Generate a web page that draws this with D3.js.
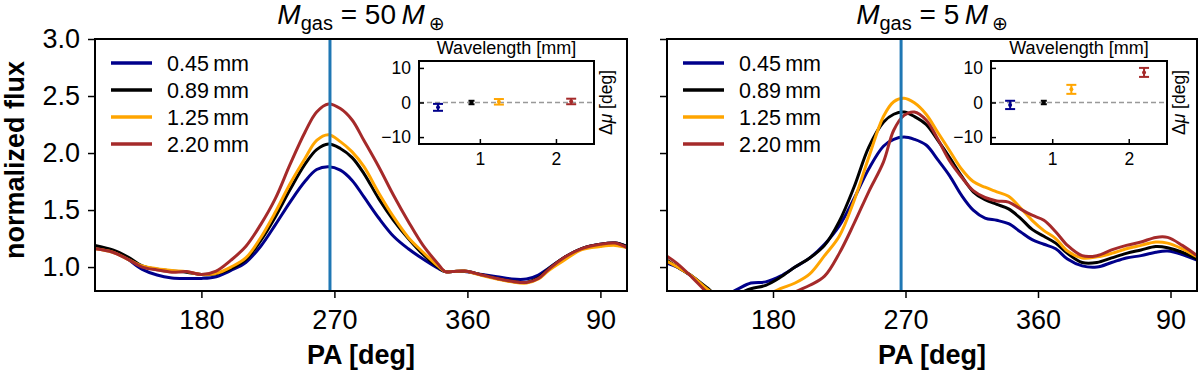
<!DOCTYPE html>
<html>
<head>
<meta charset="utf-8">
<script src="https://cdn.jsdelivr.net/npm/d3@7"></script>
<style>
  body { margin: 0; background: #fff; }
  svg { font-family: "Liberation Sans", Arial, sans-serif; }
</style>
</head>
<body>
<div id="chart"></div>
<script>
// The data
var bandLabels = ['0.45\u2009mm', '0.89\u2009mm', '1.25\u2009mm', '2.20\u2009mm'];
var wavelengths = [0.45, 0.89, 1.25, 2.20];
var bandColors = ['#00008b', '#000000', '#ffa500', '#a52a2a'];
var gasMasses = [50, 5];
var paTicks = [180, 270, 360, 450];
var fluxTicks = [1.0, 1.5, 2.0, 2.5, 3.0];
var dmuTicks = [-10, 0, 10];
var waveTicks = [1, 2];
var paMarker = 267;

// left panel, M_gas = 50 M_earth
var paHigh = [108, 120, 130, 140, 150, 160, 170, 180, 190, 200, 210, 220, 230, 240, 250, 258, 266, 274, 282, 290,
              300, 310, 320, 330, 340, 345, 350, 358, 370, 380, 390, 400, 408, 415, 425, 437, 450, 460, 468];
var fluxHigh045 = [1.18, 1.14, 1.07, 0.98, 0.93, 0.905, 0.90, 0.90, 0.915, 0.97, 1.04, 1.18, 1.37, 1.57, 1.75, 1.855, 1.88, 1.85, 1.76, 1.615,
                   1.43, 1.27, 1.16, 1.07, 0.99, 0.96, 0.96, 0.96, 0.935, 0.915, 0.895, 0.895, 0.93, 0.99, 1.08, 1.16, 1.20, 1.21, 1.18];
var fluxHigh089 = [1.19, 1.15, 1.09, 1.01, 0.98, 0.965, 0.955, 0.935, 0.94, 0.985, 1.065, 1.23, 1.44, 1.68, 1.90, 2.03, 2.08, 2.04, 1.96, 1.82,
                   1.60, 1.41, 1.25, 1.11, 1.00, 0.96, 0.96, 0.965, 0.93, 0.90, 0.875, 0.865, 0.905, 0.985, 1.08, 1.16, 1.20, 1.21, 1.18];
var fluxHigh125 = [1.16, 1.13, 1.07, 1.01, 0.985, 0.97, 0.96, 0.935, 0.945, 1.00, 1.08, 1.255, 1.48, 1.73, 1.95, 2.11, 2.16, 2.10, 2.01, 1.88,
                   1.65, 1.44, 1.26, 1.13, 1.01, 0.96, 0.96, 0.965, 0.925, 0.895, 0.87, 0.86, 0.895, 0.97, 1.055, 1.15, 1.18, 1.19, 1.17];
var fluxHigh220 = [1.16, 1.13, 1.07, 1.00, 0.975, 0.955, 0.96, 0.935, 0.965, 1.06, 1.18, 1.37, 1.60, 1.90, 2.18, 2.36, 2.43, 2.39, 2.29, 2.11,
                   1.88, 1.63, 1.40, 1.19, 1.03, 0.96, 0.96, 0.965, 0.93, 0.90, 0.875, 0.865, 0.90, 0.98, 1.08, 1.16, 1.20, 1.21, 1.17];

// right panel, M_gas = 5 M_earth
var paLow = [108, 115, 125, 135, 145, 155, 165, 175, 185, 195, 205, 215, 225, 235, 245, 255, 262, 269, 276, 284, 292,
             300, 308, 316, 324, 332, 340, 348, 356, 364, 372, 380, 390, 400, 410, 420, 430, 440, 448, 458, 468];
var fluxLow045 = [1.035, 1.00, 0.92, 0.81, 0.74, 0.80, 0.86, 0.87, 0.92, 1.00, 1.08, 1.20, 1.36, 1.60, 1.86, 2.06, 2.12, 2.14, 2.12, 2.07, 1.94,
                  1.80, 1.63, 1.50, 1.43, 1.41, 1.38, 1.31, 1.24, 1.20, 1.16, 1.07, 1.01, 1.00, 1.04, 1.08, 1.10, 1.13, 1.14, 1.11, 1.06];
var fluxLow089 = [1.06, 1.00, 0.92, 0.82, 0.73, 0.76, 0.81, 0.84, 0.91, 1.00, 1.08, 1.19, 1.40, 1.70, 2.05, 2.27, 2.34, 2.36, 2.32, 2.25, 2.11,
                  1.96, 1.80, 1.66, 1.59, 1.55, 1.51, 1.43, 1.33, 1.27, 1.21, 1.12, 1.04, 1.04, 1.08, 1.12, 1.15, 1.18, 1.17, 1.13, 1.07];
var fluxLow125 = [1.05, 1.00, 0.92, 0.81, 0.72, 0.68, 0.70, 0.75, 0.81, 0.86, 0.94, 1.10, 1.27, 1.58, 1.96, 2.32, 2.45, 2.48, 2.44, 2.34, 2.18,
                  2.02, 1.86, 1.75, 1.70, 1.66, 1.62, 1.52, 1.41, 1.32, 1.25, 1.14, 1.08, 1.09, 1.12, 1.16, 1.19, 1.22, 1.21, 1.16, 1.09];
var fluxLow220 = [1.095, 1.03, 0.91, 0.78, 0.68, 0.63, 0.62, 0.65, 0.70, 0.78, 0.84, 0.92, 1.12, 1.38, 1.66, 1.92, 2.20, 2.33, 2.36, 2.29, 2.12,
                  1.93, 1.79, 1.67, 1.61, 1.58, 1.57, 1.51, 1.455, 1.41, 1.31, 1.19, 1.10, 1.10, 1.15, 1.19, 1.22, 1.26, 1.26, 1.19, 1.10];

// peak offsets (inset)
var dmuHigh = [-1.4, 0.0, 0.2, 0.3];
var dmuErrHigh = [1.0, 0.5, 0.8, 0.8];
var dmuLow = [-0.7, 0.0, 3.8, 8.7];
var dmuErrLow = [1.2, 0.5, 1.3, 1.3];

var panels = [
  { left: 95, right: 627, pa: paHigh, flux: [fluxHigh045, fluxHigh089, fluxHigh125, fluxHigh220],
    dmu: dmuHigh, dmuErr: dmuErrHigh, mass: gasMasses[0], yLabels: true, inset: { left: 419, right: 594 } },
  { left: 667, right: 1197, pa: paLow, flux: [fluxLow045, fluxLow089, fluxLow125, fluxLow220],
    dmu: dmuLow, dmuErr: dmuErrLow, mass: gasMasses[1], yLabels: false, inset: { left: 991, right: 1167 } }
];

var width = 1200, height = 372;
var plotTop = 39, plotBottom = 291;
var insetTop = 61, insetBottom = 144;

var svg = d3.select('#chart').append('svg')
    .attr('width', width)
    .attr('height', height);

var y = d3.scaleLinear().domain([0.79, 3.0]).range([plotBottom, plotTop]);

panels.forEach(function(p, k) {
  var x = d3.scaleLinear().domain([108, 468]).range([p.left, p.right]);
  var g = svg.append('g');

  g.append('clipPath').attr('id', 'clip' + k)
    .append('rect')
      .attr('x', p.left).attr('y', plotTop)
      .attr('width', p.right - p.left).attr('height', plotBottom - plotTop);

  var line = d3.line()
      .x(function(d) { return x(d[0]); })
      .y(function(d) { return y(d[1]); })
      .curve(d3.curveCatmullRom.alpha(0.5));

  var curves = g.append('g').attr('clip-path', 'url(#clip' + k + ')');
  p.flux.forEach(function(series, i) {
    curves.append('path')
        .datum(p.pa.map(function(a, j) { return [a, series[j]]; }))
        .attr('d', line)
        .style('fill', 'none')
        .style('stroke', bandColors[i])
        .style('stroke-width', 3);
  });

  curves.append('line')
      .attr('x1', x(paMarker)).attr('x2', x(paMarker))
      .attr('y1', plotTop).attr('y2', plotBottom)
      .style('stroke', '#1f77b4')
      .style('stroke-width', 3);

  // axes
  var xAxis = g.append('g')
      .attr('transform', 'translate(0,' + plotBottom + ')')
      .call(d3.axisBottom(x).tickValues(paTicks)
        .tickFormat(function(d) { return d > 360 ? d - 360 : d; })
        .tickSize(7).tickPadding(12));
  var yAxis = g.append('g')
      .attr('transform', 'translate(' + p.left + ',0)')
      .call(d3.axisLeft(y).tickValues(fluxTicks)
        .tickFormat(p.yLabels ? d3.format('.1f') : function() { return ''; })
        .tickSize(7).tickPadding(8));
  [xAxis, yAxis].forEach(function(a) {
    a.select('.domain').remove();
    a.selectAll('line').style('stroke', '#000').style('stroke-width', 1.5);
    a.selectAll('text').style('font-size', '27px').style('fill', '#000')
      .style('font-family', '"Liberation Sans", Arial, sans-serif');
  });

  g.append('rect')
      .attr('x', p.left).attr('y', plotTop)
      .attr('width', p.right - p.left).attr('height', plotBottom - plotTop)
      .style('fill', 'none').style('stroke', '#000').style('stroke-width', 2);

  // legend
  bandLabels.forEach(function(lab, i) {
    var ly = 63 + i * 27;
    g.append('line')
        .attr('x1', p.left + 16).attr('x2', p.left + 57)
        .attr('y1', ly).attr('y2', ly)
        .style('stroke', bandColors[i]).style('stroke-width', 3.5);
    g.append('text')
        .attr('x', p.left + 72).attr('y', ly + 7.5)
        .style('font-size', '21.5px')
        .text(lab);
  });

  // title
  var cx = (p.left + p.right) / 2;
  var t = g.append('text').attr('x', cx).attr('y', 24)
      .attr('text-anchor', 'middle').style('font-size', '28px');
  t.append('tspan').style('font-style', 'italic').text('M');
  t.append('tspan').attr('dy', 6).style('font-size', '20px').text('gas');
  t.append('tspan').attr('dy', -6).text(' = ' + p.mass + '\u2009');
  t.append('tspan').style('font-style', 'italic').text('M');
  t.append('tspan').attr('dy', 6).style('font-size', '19px')
      .style('font-family', '"DejaVu Sans", sans-serif').text('\u2009\u2295');

  g.append('text')
      .attr('x', cx).attr('y', 364)
      .attr('text-anchor', 'middle')
      .style('font-size', '27px').style('font-weight', 'bold')
      .text('PA [deg]');

  // inset
  var ins = p.inset;
  var ix = d3.scaleLinear().domain([0.2, 2.5]).range([ins.left, ins.right]);
  var iy = d3.scaleLinear().domain([-12, 12]).range([insetBottom, insetTop]);
  var ig = g.append('g');
  ig.append('rect')
      .attr('x', ins.left).attr('y', insetTop)
      .attr('width', ins.right - ins.left).attr('height', insetBottom - insetTop)
      .style('fill', '#fff');
  ig.append('line')
      .attr('x1', ins.left).attr('x2', ins.right)
      .attr('y1', iy(0)).attr('y2', iy(0))
      .style('stroke', '#999').style('stroke-width', 1.5)
      .style('stroke-dasharray', '5,3');

  var ixAxis = ig.append('g')
      .attr('transform', 'translate(0,' + insetBottom + ')')
      .call(d3.axisBottom(ix).tickValues(waveTicks).tickFormat(d3.format('d'))
        .tickSize(-5).tickPadding(9));
  var iyAxis = ig.append('g')
      .attr('transform', 'translate(' + ins.left + ',0)')
      .call(d3.axisLeft(iy).tickValues(dmuTicks).tickSize(-5).tickPadding(8));
  [ixAxis, iyAxis].forEach(function(a) {
    a.select('.domain').remove();
    a.selectAll('line').style('stroke', '#000').style('stroke-width', 1.5);
    a.selectAll('text').style('font-size', '17.5px').style('fill', '#000')
      .style('font-family', '"Liberation Sans", Arial, sans-serif');
  });

  wavelengths.forEach(function(w, i) {
    var px = ix(w), cy = iy(p.dmu[i]);
    var y0 = iy(p.dmu[i] - p.dmuErr[i]), y1 = iy(p.dmu[i] + p.dmuErr[i]);
    var cap = i === 1 ? 3 : 5;
    ig.append('line').attr('x1', px).attr('x2', px).attr('y1', y0).attr('y2', y1)
        .style('stroke', bandColors[i]).style('stroke-width', 2);
    [y0, y1].forEach(function(yy) {
      ig.append('line').attr('x1', px - cap).attr('x2', px + cap).attr('y1', yy).attr('y2', yy)
          .style('stroke', bandColors[i]).style('stroke-width', 2);
    });
    ig.append('circle').attr('cx', px).attr('cy', cy).attr('r', 2)
        .style('fill', bandColors[i]);
  });

  ig.append('rect')
      .attr('x', ins.left).attr('y', insetTop)
      .attr('width', ins.right - ins.left).attr('height', insetBottom - insetTop)
      .style('fill', 'none').style('stroke', '#000').style('stroke-width', 2);

  ig.append('text')
      .attr('x', (ins.left + ins.right) / 2).attr('y', 54)
      .attr('text-anchor', 'middle')
      .style('font-size', '18px')
      .text('Wavelength [mm]');

  var dl = ig.append('text')
      .attr('transform', 'translate(' + (ins.right + 18) + ',' + ((insetTop + insetBottom) / 2) + ') rotate(-90)')
      .attr('text-anchor', 'middle')
      .style('font-size', '17.5px');
  dl.append('tspan').text('\u0394');
  dl.append('tspan').style('font-style', 'italic').text('\u03bc');
  dl.append('tspan').text(' [deg]');
});

svg.append('text')
    .attr('transform', 'translate(24,160) rotate(-90)')
    .attr('text-anchor', 'middle')
    .style('font-size', '27px').style('font-weight', 'bold')
    .text('normalized flux');
</script>
</body>
</html>
